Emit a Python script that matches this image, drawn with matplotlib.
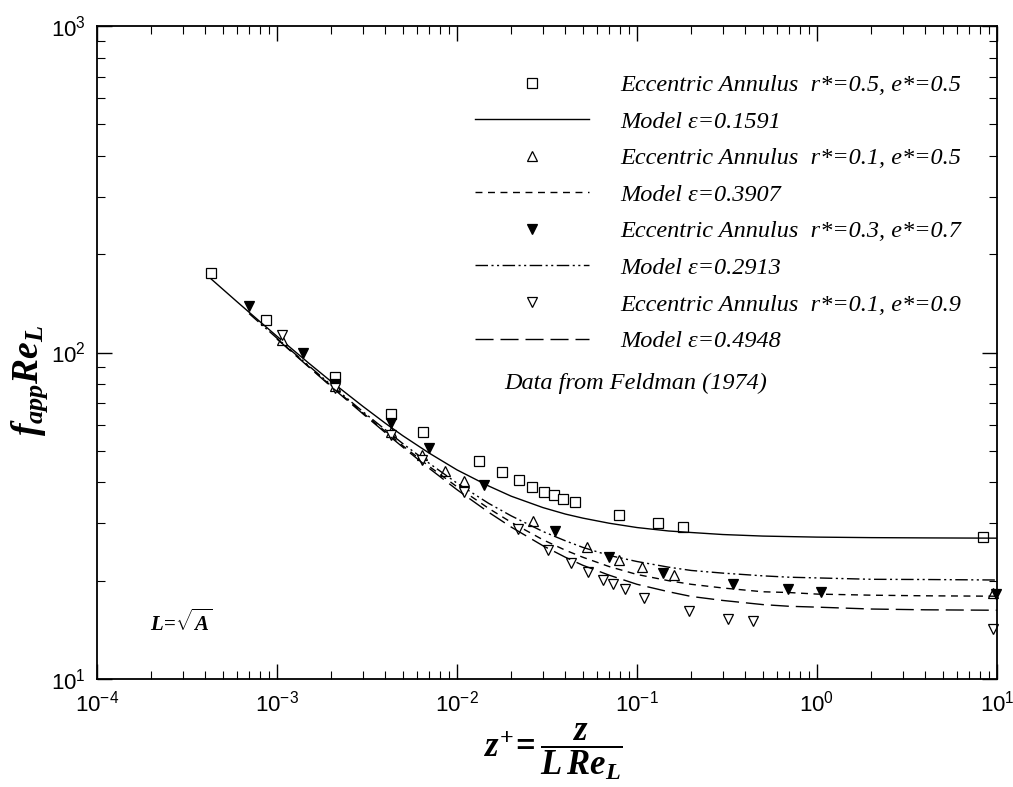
import matplotlib
matplotlib.use("Agg")
import matplotlib.pyplot as plt

plt.rcParams['font.family'] = 'Liberation Sans'
plt.rcParams['mathtext.fontset'] = 'custom'
plt.rcParams['mathtext.it'] = 'Liberation Serif:italic:bold'
plt.rcParams['mathtext.rm'] = 'Liberation Serif:bold'
plt.rcParams['mathtext.bf'] = 'Liberation Serif:bold'

# data (Feldman 1974 eccentric annulus)
sq_x = [4.3e-4, 8.7e-4, 2.1e-3, 4.3e-3, 6.5e-3, 0.0132, 0.0177, 0.022, 0.0262, 0.0303,
        0.0348, 0.039, 0.045, 0.079, 0.13, 0.18, 8.4]
sq_y = [175, 126, 84, 65, 57, 46.6, 43, 40.6, 38.6, 37.5, 36.5, 35.7, 34.8, 31.7, 30, 29.2, 27.2]

tri_x = [1.07e-3, 2.1e-3, 4.3e-3, 6.4e-3, 8.6e-3, 0.0109, 0.0266, 0.053, 0.079, 0.106, 0.16, 9.5]
tri_y = [109, 79, 57, 48.7, 43.4, 40.3, 30.4, 25.4, 23.2, 22.0, 20.8, 18.3]

ftri_x = [7.0e-4, 1.4e-3, 2.1e-3, 4.3e-3, 7.0e-3, 0.0142, 0.035, 0.0695, 0.14, 0.34, 0.69, 1.05, 9.9]
ftri_y = [139, 100, 80, 61, 51, 39.2, 28.4, 23.7, 21.1, 19.5, 18.8, 18.5, 18.2]

dtri_x = [1.07e-3, 2.1e-3, 4.3e-3, 6.4e-3, 0.0109, 0.0217, 0.0322, 0.0428, 0.0531, 0.0644,
          0.074, 0.0853, 0.11, 0.194, 0.319, 0.44, 9.5]
dtri_y = [113, 78, 56, 47, 37.5, 28.8, 24.8, 22.7, 21.3, 20.1, 19.5, 18.8, 17.7, 16.2, 15.3, 15.1, 14.2]

# model curves
mx = [4.3e-4, 6e-4, 8e-4, 1e-3, 1.5e-3, 2e-3, 3e-3, 4e-3, 5e-3, 7e-3, 1e-2, 1.5e-2, 2e-2,
      3e-2, 4e-2, 5e-2, 7e-2, 0.1, 0.15, 0.2, 0.3, 0.5, 0.7, 1, 2, 4, 10]
m1_y = [168.1, 143.0, 124.6, 112.1, 92.8, 81.5, 68.4, 60.7, 55.6, 49.2, 43.7, 39.0, 36.3,
        33.5, 32.0, 31.1, 30.0, 29.1, 28.4, 28.1, 27.7, 27.4, 27.3, 27.2, 27.1, 27.05, 27.0]
m2_x = [1e-3, 1.5e-3, 2e-3, 3e-3, 4e-3, 5e-3, 7e-3, 1e-2, 1.5e-2, 2e-2,
        3e-2, 4e-2, 5e-2, 7e-2, 0.1, 0.15, 0.2, 0.3, 0.5, 0.7, 1, 2, 4, 10]
m2_y = [110.2, 90.6, 79.0, 65.3, 57.3, 51.8, 44.8, 38.8, 33.3, 30.2, 26.7, 24.8, 23.6,
        22.1, 20.9, 20.0, 19.5, 19.0, 18.5, 18.4, 18.2, 18.06, 17.98, 17.93]
m3_x = [7e-4, 1e-3, 1.5e-3, 2e-3, 3e-3, 4e-3, 5e-3, 7e-3, 1e-2, 1.5e-2, 2e-2,
        3e-2, 4e-2, 5e-2, 7e-2, 0.1, 0.15, 0.2, 0.3, 0.5, 0.7, 1, 2, 4, 10]
m3_y = [131.6, 110.6, 91.1, 79.5, 65.9, 58.0, 52.6, 45.8, 39.8, 34.5, 31.6, 28.3, 26.5,
        25.3, 23.9, 22.9, 22.0, 21.5, 21.1, 20.7, 20.5, 20.4, 20.2, 20.17, 20.1]
m4_x = m2_x
m4_y = [110.0, 90.3, 78.6, 64.9, 56.8, 51.3, 44.2, 38.0, 32.4, 29.2, 25.6, 23.6, 22.3,
        20.8, 19.5, 18.5, 17.9, 17.4, 16.9, 16.7, 16.6, 16.38, 16.29, 16.24]

labels = ['Eccentric Annulus  r*=0.5, e*=0.5', 'Model \u03b5=0.1591',
          'Eccentric Annulus  r*=0.1, e*=0.5', 'Model \u03b5=0.3907',
          'Eccentric Annulus  r*=0.3, e*=0.7', 'Model \u03b5=0.2913',
          'Eccentric Annulus  r*=0.1, e*=0.9', 'Model \u03b5=0.4948']

fig = plt.figure(figsize=(10.13, 7.87), dpi=100)
ax = fig.add_axes([97 / 1013, 1 - 679 / 787, 900 / 1013, 653 / 787])

mk = dict(linestyle='none', markersize=7, markeredgewidth=0.9, markeredgecolor='black', clip_on=False)
h1, = ax.plot(sq_x, sq_y, marker='s', markerfacecolor='white', **mk)
l1, = ax.plot(mx, m1_y, color='black', lw=1.0, linestyle='-')
h2, = ax.plot(tri_x, tri_y, marker='^', markerfacecolor='white', **mk)
l2, = ax.plot(m2_x, m2_y, color='black', lw=1.0, linestyle=(0, (5, 4)))
h3, = ax.plot(ftri_x, ftri_y, marker='v', markerfacecolor='black', **mk)
l3, = ax.plot(m3_x, m3_y, color='black', lw=1.0, linestyle=(0, (9, 2.5, 1.5, 2.5, 1.5, 2.5)))
h4, = ax.plot(dtri_x, dtri_y, marker='v', markerfacecolor='white', **mk)
l4, = ax.plot(m4_x, m4_y, color='black', lw=1.0, linestyle=(0, (13, 5)))

ax.set_xscale('log')
ax.set_yscale('log')
ax.set_xlim(1e-4, 10)
ax.set_ylim(10, 1000)

ax.tick_params(which='both', direction='in', top=True, right=True, labelsize=16, pad=8)
ax.tick_params(which='major', length=11, width=1)
ax.tick_params(which='minor', length=6, width=0.8)
for s in ax.spines.values():
    s.set_linewidth(1.3)

leg = ax.legend([h1, l1, h2, l2, h3, l3, h4, l4], labels,
                loc='upper left', bbox_to_anchor=(475 / 1013, 1 - 74 / 787),
                bbox_transform=fig.transFigure, frameon=False, borderpad=0, borderaxespad=0,
                handlelength=4.7, handletextpad=1.28, labelspacing=0.6, numpoints=1,
                prop={'family': 'Liberation Serif', 'style': 'italic', 'size': 17.5})

fig.text(504 / 1013, 1 - 383 / 787, 'Data from Feldman (1974)', family='Liberation Serif',
         style='italic', fontsize=17.5, va='center', ha='left')
fig.text(150 / 1013, 1 - 622 / 787, r'$L\!=\!\sqrt{A}$', fontsize=15, va='center', ha='left')

fig.text(30 / 1013, 1 - 380 / 787, r'$f_{app}Re_L$', fontsize=27, rotation=90,
         ha='center', va='center')
fig.text(553 / 1013, 1 - 752 / 787, r'$z^{+}\!=\dfrac{z}{L\,Re_L}$', fontsize=25,
         ha='center', va='center')

fig.savefig('out.png', dpi=100)
